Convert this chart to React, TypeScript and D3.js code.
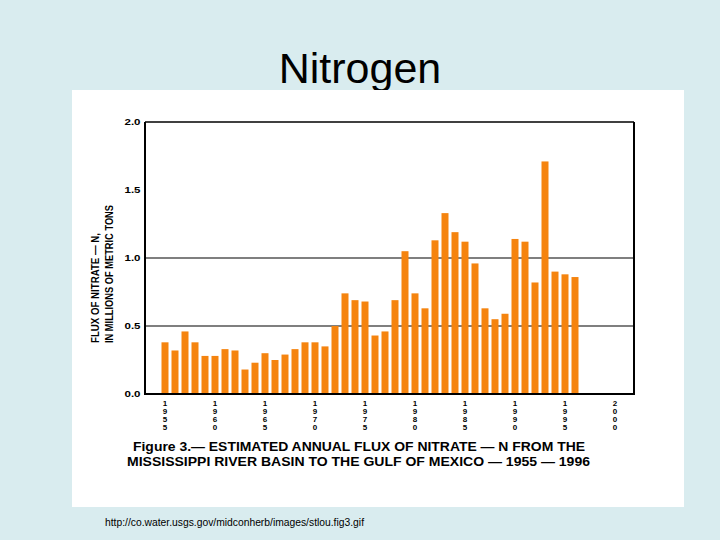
import React from "react";
import * as d3 from "d3";

const years: number[] = [
  1955, 1956, 1957, 1958, 1959, 1960, 1961, 1962, 1963, 1964, 1965, 1966, 1967, 1968,
  1969, 1970, 1971, 1972, 1973, 1974, 1975, 1976, 1977, 1978, 1979, 1980, 1981, 1982,
  1983, 1984, 1985, 1986, 1987, 1988, 1989, 1990, 1991, 1992, 1993, 1994, 1995, 1996,
];
const flux: number[] = [
  0.38, 0.32, 0.46, 0.38, 0.28, 0.28, 0.33, 0.32, 0.18, 0.23, 0.3, 0.25, 0.29, 0.33,
  0.38, 0.38, 0.35, 0.5, 0.74, 0.69, 0.68, 0.43, 0.46, 0.69, 1.05, 0.74, 0.63, 1.13,
  1.33, 1.19, 1.12, 0.96, 0.63, 0.55, 0.59, 1.14, 1.12, 0.82, 1.71, 0.9, 0.88, 0.86,
];
const xTicks: number[] = [1955, 1960, 1965, 1970, 1975, 1980, 1985, 1990, 1995, 2000];
const yTicks: number[] = [0, 0.5, 1.0, 1.5, 2.0];
const gridValues: number[] = [0.5, 1.0];

const title = "Nitrogen";
const yTitle1 = "FLUX OF NITRATE \u2014 N,";
const yTitle2 = "IN MILLIONS OF METRIC TONS";
const caption1 = "Figure 3.\u2014  ESTIMATED ANNUAL FLUX OF NITRATE \u2014 N FROM THE";
const caption2 = "MISSISSIPPI RIVER BASIN TO THE GULF OF MEXICO  \u2014 1955 \u2014 1996";
const sourceUrl = "http://co.water.usgs.gov/midconherb/images/stlou.fig3.gif";

export default function App() {
  const W = 720;
  const H = 540;
  const plot = { left: 145, right: 634, top: 122, bottom: 394 };
  const x = d3.scaleLinear().domain([1955, 2000]).range([165, 615]);
  const y = d3.scaleLinear().domain([0, 2]).range([plot.bottom, plot.top]);
  const barW = 7;
  const font = "'Liberation Sans', Arial, Helvetica, sans-serif";

  return (
    <svg
      width={W}
      height={H}
      style={{ position: "absolute", left: 0, top: 0 }}
      fontFamily={font}
    >
      <rect x={0} y={0} width={W} height={H} fill="#d9ecef" />
      <text x={360} y={83} textAnchor="middle" fontSize={43} fill="#000">
        {title}
      </text>
      <rect x={72} y={90} width={612} height={417} fill="#ffffff" />

      {/* gridlines */}
      {gridValues.map((v) => (
        <line
          key={"g" + v}
          x1={plot.left}
          x2={plot.right}
          y1={y(v)}
          y2={y(v)}
          stroke="#000"
          strokeWidth={1.2}
        />
      ))}

      {/* bars */}
      {years.map((yr, i) => (
        <rect
          key={yr}
          x={x(yr) - barW / 2}
          y={y(flux[i])}
          width={barW}
          height={y(0) - y(flux[i])}
          fill="#f5840f"
        />
      ))}

      {/* frame */}
      <line x1={plot.left} x2={plot.right} y1={plot.top} y2={plot.top} stroke="#000" strokeWidth={1.5} />
      <line x1={plot.right} x2={plot.right} y1={plot.top} y2={plot.bottom} stroke="#000" strokeWidth={2} />
      <line x1={plot.left} x2={plot.left} y1={plot.top} y2={plot.bottom + 1} stroke="#000" strokeWidth={2} />
      <line x1={plot.left - 1} x2={plot.right + 1} y1={plot.bottom} y2={plot.bottom} stroke="#000" strokeWidth={2.2} />

      {/* y tick labels */}
      {yTicks.map((v) => (
        <text
          key={"y" + v}
          x={140.5}
          y={y(v) + 3.2}
          textAnchor="end"
          fontSize={9}
          fontWeight="bold"
          textLength={16}
          lengthAdjust="spacingAndGlyphs"
          fill="#000"
        >
          {v.toFixed(1)}
        </text>
      ))}

      {/* x tick labels, stacked digits */}
      {xTicks.map((t) =>
        String(t)
          .split("")
          .map((ch, j) => (
            <text
              key={"x" + t + "-" + j}
              x={x(t)}
              y={406 + j * 8}
              textAnchor="middle"
              fontSize={8}
              fontWeight="bold"
              fill="#000"
            >
              {ch}
            </text>
          ))
      )}

      {/* y axis title */}
      <text
        transform="translate(99,343) rotate(-90)"
        fontSize={11}
        fontWeight="bold"
        textLength={110}
        lengthAdjust="spacingAndGlyphs"
        fill="#000"
      >
        {yTitle1}
      </text>
      <text
        transform="translate(113,343) rotate(-90)"
        fontSize={11}
        fontWeight="bold"
        textLength={138}
        lengthAdjust="spacingAndGlyphs"
        fill="#000"
      >
        {yTitle2}
      </text>

      {/* caption */}
      <text
        x={133}
        y={451}
        fontSize={13.5}
        fontWeight="bold"
        textLength={452}
        lengthAdjust="spacingAndGlyphs"
        fill="#000"
      >
        {caption1}
      </text>
      <text
        x={127}
        y={466}
        fontSize={12.5}
        fontWeight="bold"
        textLength={463}
        lengthAdjust="spacingAndGlyphs"
        fill="#000"
      >
        {caption2}
      </text>

      {/* source */}
      <text
        x={105}
        y={526}
        fontSize={10}
        textLength={259}
        lengthAdjust="spacingAndGlyphs"
        fill="#000"
      >
        {sourceUrl}
      </text>
    </svg>
  );
}
